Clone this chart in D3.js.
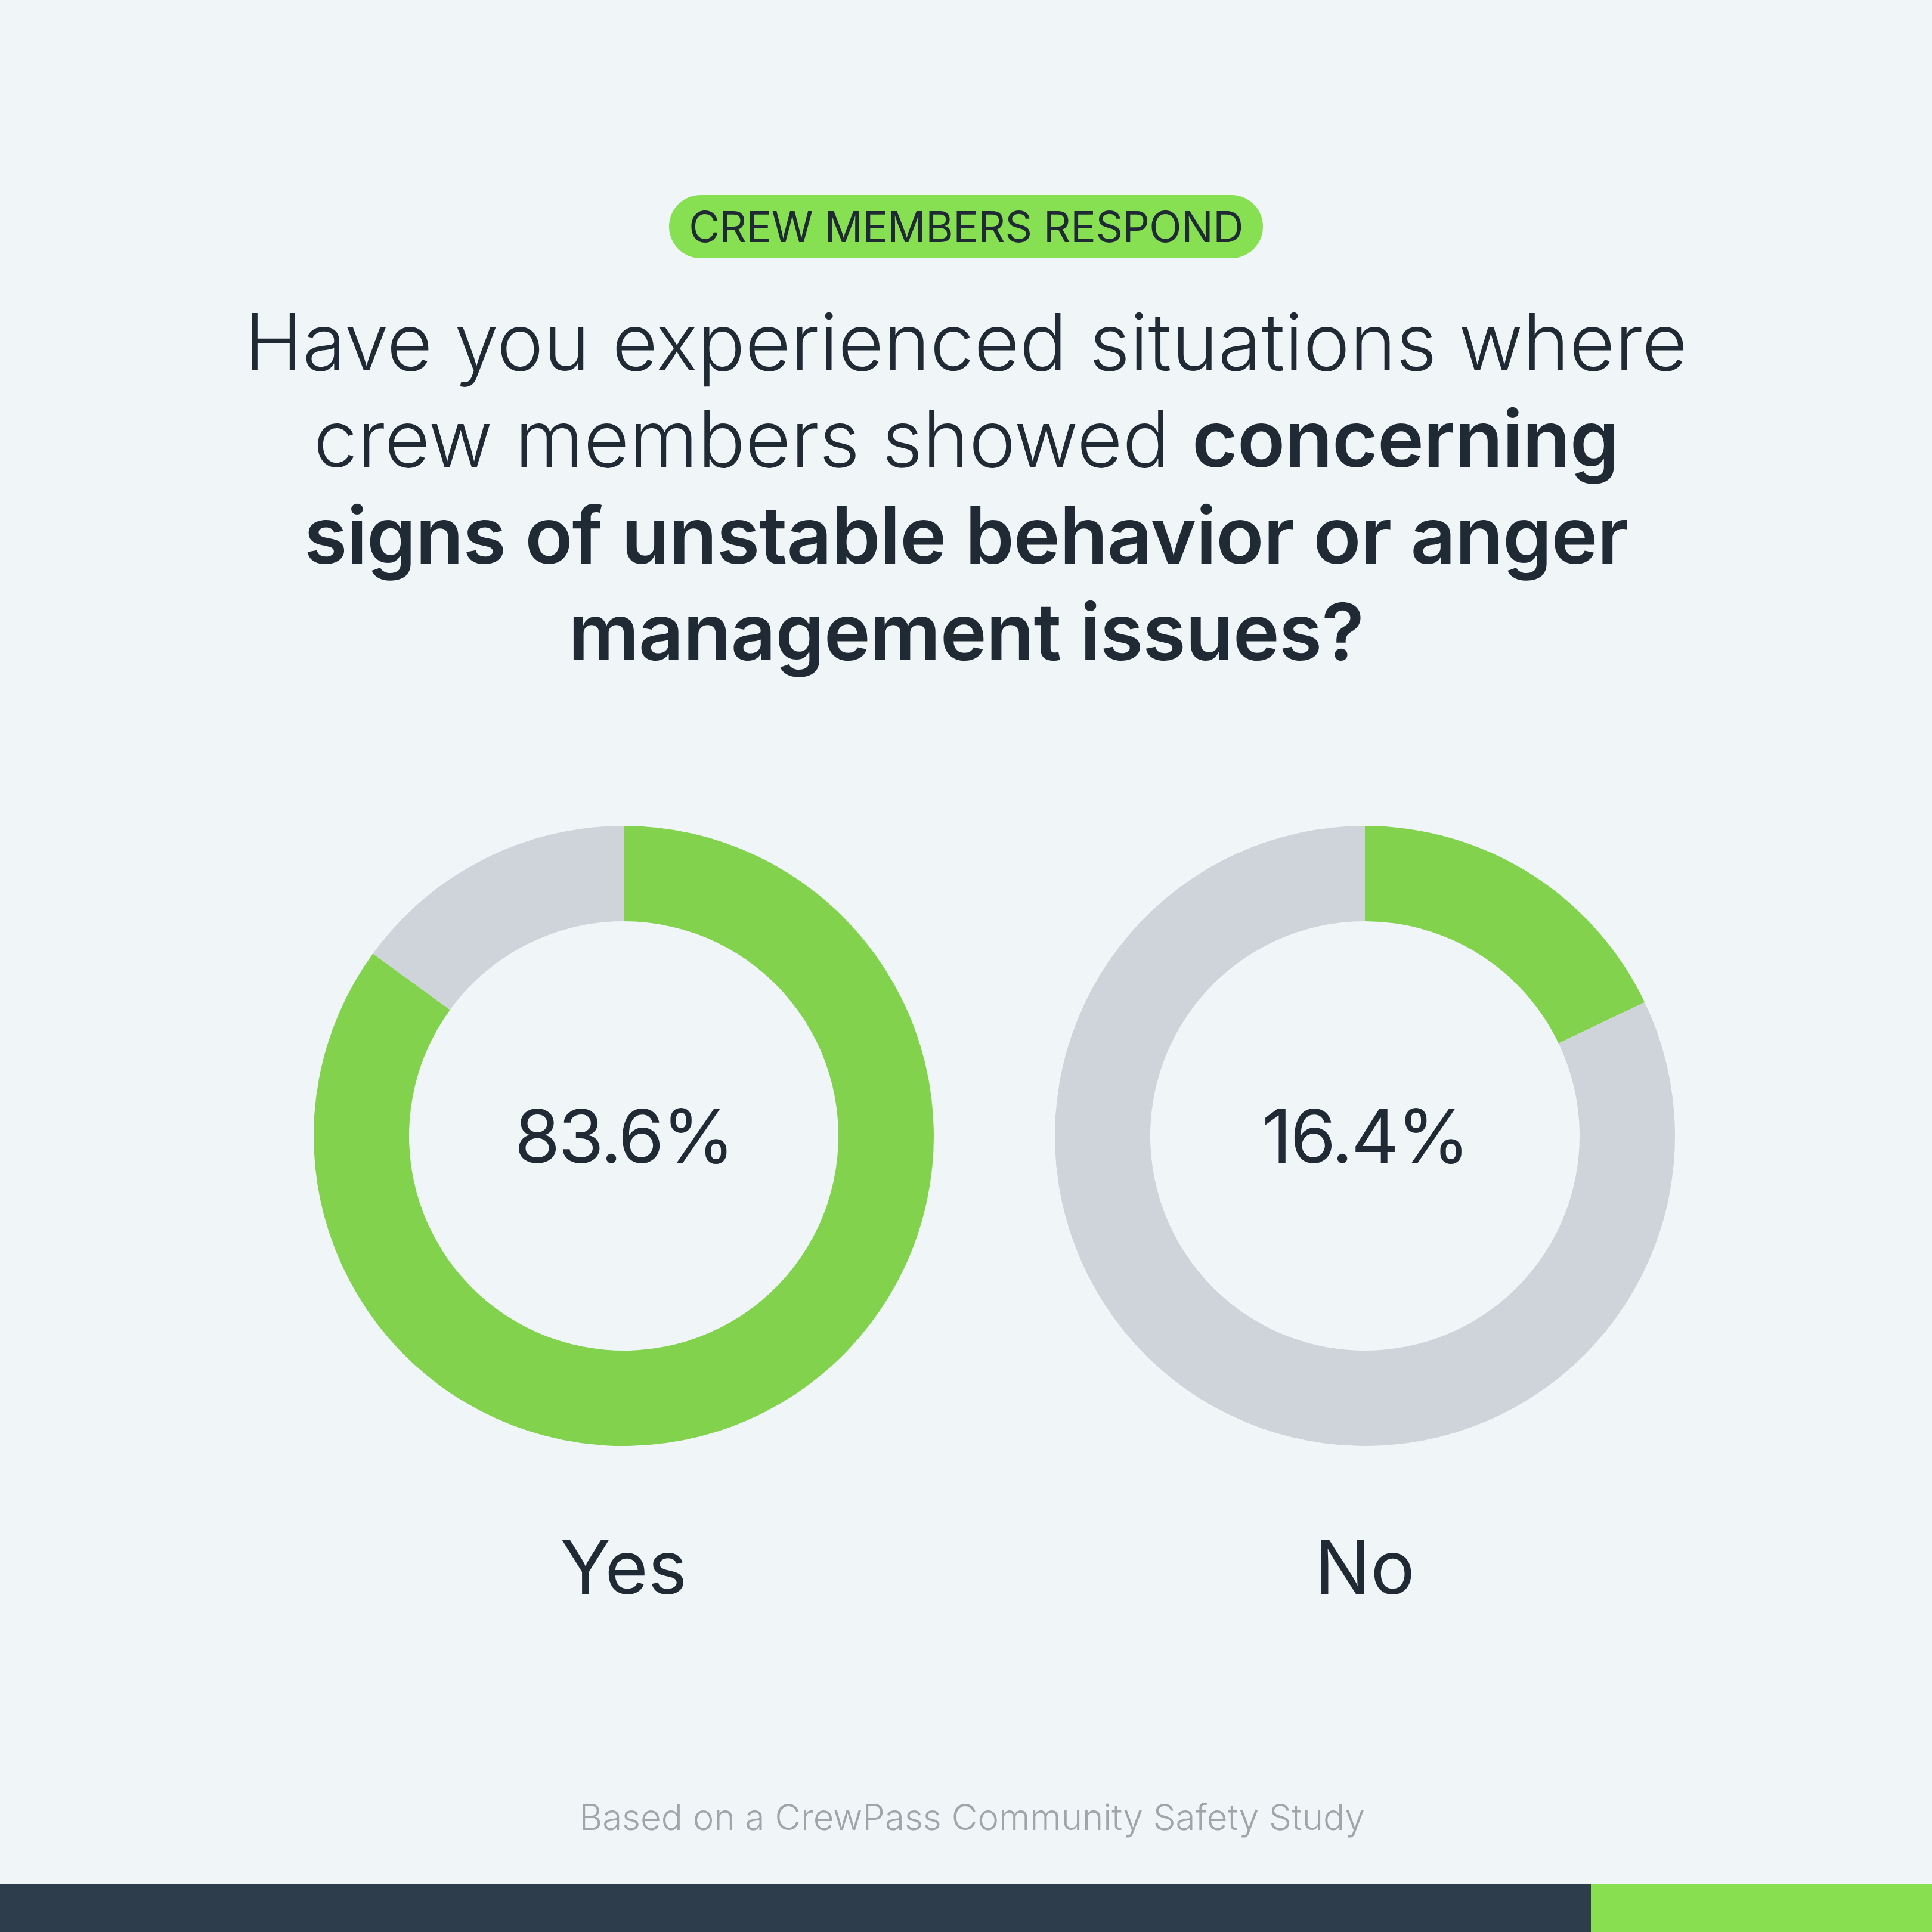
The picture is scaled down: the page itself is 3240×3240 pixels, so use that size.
<!DOCTYPE html>
<html>
<head>
<meta charset="utf-8">
<script src="https://cdn.jsdelivr.net/npm/d3@7"></script>
<style>
  html, body { margin: 0; padding: 0; background: #f0f5f8; }
  svg { display: block; }
  text { font-family: Inter, "Noto Sans", sans-serif; }
</style>
</head>
<body>
<svg id="chart" width="3240" height="3240"></svg>
<script>
// data
const badge = "CREW MEMBERS RESPOND";
const titleLines = [
  [{ t: "Have you experienced situations where", b: false }],
  [{ t: "crew members showed ", b: false }, { t: "concerning", b: true }],
  [{ t: "signs of unstable behavior or anger", b: true }],
  [{ t: "management issues?", b: true }]
];
const categories = ["Yes", "No"];
const values = [83.6, 16.4];          // printed in the centre
const arcShares = [85.0, 17.9];       // green sweep as drawn in the picture
const source = "Based on a CrewPass Community Safety Study";

const W = 3240, H = 3240;
const ink = "#1f2a35";
const svg = d3.select("#chart");

svg.append("rect").attr("width", W).attr("height", H).attr("fill", "#f0f5f8");

// badge
const badgeG = svg.append("g").attr("transform", "translate(1620,380)");
badgeG.append("rect")
  .attr("x", -498).attr("y", -53)
  .attr("width", 996).attr("height", 106)
  .attr("rx", 53)
  .attr("fill", "#87e052");
badgeG.append("text")
  .attr("text-anchor", "middle")
  .attr("y", 26)
  .attr("font-size", 71)
  .attr("letter-spacing", -0.5)
  .attr("font-weight", 400)
  .attr("fill", ink)
  .text(badge);

// title
const title = svg.append("text")
  .attr("text-anchor", "middle")
  .attr("font-size", 132)
  .attr("fill", ink);
titleLines.forEach((line, i) => {
  const row = title.append("tspan").attr("x", 1620).attr("y", 621 + i * 162);
  line.forEach(part => {
    row.append("tspan")
      .attr("font-weight", part.b ? 600 : 300)
      .attr("letter-spacing", part.b ? -1 : 0)
      .text(part.t);
  });
});

// donuts
const x = d3.scalePoint().domain(categories).range([1046, 2289]);
const cy = 1905;
const pie = d3.pie().sort(null).value(d => d.v);
const arc = d3.arc().innerRadius(360).outerRadius(520);
const color = d3.scaleOrdinal().domain(["share", "rest"]).range(["#82d24e", "#cfd4da"]);

const donuts = svg.selectAll("g.donut")
  .data(categories.map((c, i) => ({ cat: c, val: values[i], share: arcShares[i] })))
  .enter().append("g")
  .attr("class", "donut")
  .attr("transform", d => `translate(${x(d.cat)},${cy})`);

donuts.selectAll("path")
  .data(d => pie([{ k: "share", v: d.share }, { k: "rest", v: 100 - d.share }]))
  .enter().append("path")
  .attr("d", arc)
  .attr("fill", d => color(d.data.k));

donuts.append("text")
  .attr("text-anchor", "middle")
  .attr("y", 45)
  .attr("font-size", 124)
  .attr("letter-spacing", -3)
  .attr("font-weight", 400)
  .attr("fill", ink)
  .text(d => d.val.toFixed(1) + "%");

donuts.append("text")
  .attr("text-anchor", "middle")
  .attr("y", 2673 - cy)
  .attr("font-size", 124)
  .attr("font-weight", 400)
  .attr("fill", ink)
  .text(d => d.cat);

// source note
svg.append("text")
  .attr("x", 1630).attr("y", 3069)
  .attr("text-anchor", "middle")
  .attr("font-size", 60)
  .attr("font-weight", 300)
  .attr("fill", "#a0a5aa")
  .text(source);

// bottom bar
svg.append("rect").attr("x", 0).attr("y", 3159).attr("width", 2668).attr("height", H - 3159).attr("fill", "#2d3d4b");
svg.append("rect").attr("x", 2668).attr("y", 3159).attr("width", W - 2668).attr("height", H - 3159).attr("fill", "#88e050");
</script>
</body>
</html>
